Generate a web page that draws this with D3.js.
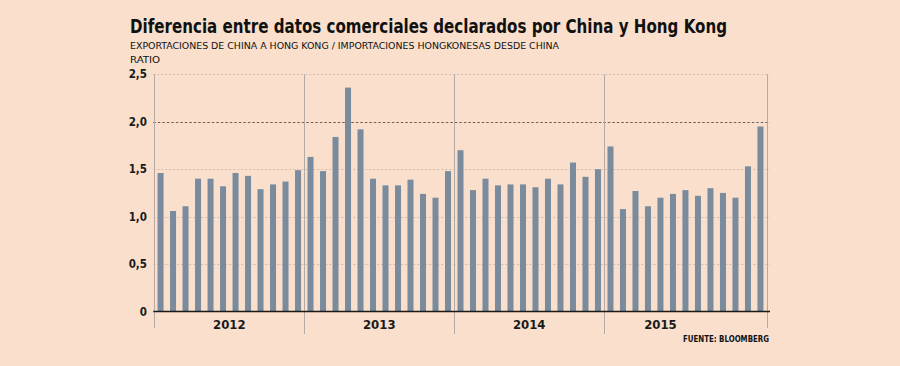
<!DOCTYPE html>
<html>
<head>
<meta charset="utf-8">
<script src="https://cdn.jsdelivr.net/npm/d3@7"></script>
<style>
  html, body { margin: 0; padding: 0; background: #f9dfcc; }
  svg { display: block; }
  text { font-family: "DejaVu Sans Condensed", "DejaVu Sans", Tahoma, sans-serif; }
</style>
</head>
<body>
<svg id="chart" width="900" height="366"></svg>
<script>
// ---- data ----
const months = [
  "2012-01","2012-02","2012-03","2012-04","2012-05","2012-06","2012-07","2012-08","2012-09","2012-10","2012-11","2012-12",
  "2013-01","2013-02","2013-03","2013-04","2013-05","2013-06","2013-07","2013-08","2013-09","2013-10","2013-11","2013-12",
  "2014-01","2014-02","2014-03","2014-04","2014-05","2014-06","2014-07","2014-08","2014-09","2014-10","2014-11","2014-12",
  "2015-01","2015-02","2015-03","2015-04","2015-05","2015-06","2015-07","2015-08","2015-09","2015-10","2015-11","2015-12","2016-01"
];
const ratio = [
  1.46, 1.06, 1.11, 1.40, 1.40, 1.32, 1.46, 1.43, 1.29, 1.34, 1.37, 1.49,
  1.63, 1.48, 1.84, 2.36, 1.92, 1.40, 1.33, 1.33, 1.39, 1.24, 1.20, 1.48,
  1.70, 1.28, 1.40, 1.33, 1.34, 1.34, 1.31, 1.40, 1.34, 1.57, 1.42, 1.50,
  1.74, 1.08, 1.27, 1.11, 1.20, 1.24, 1.28, 1.22, 1.30, 1.25, 1.20, 1.53, 1.95
];
const yearLabels = ["2012", "2013", "2014", "2015"];
const yearStarts = ["2012-01", "2013-01", "2014-01", "2015-01"];
const yTicks = [0, 0.5, 1.0, 1.5, 2.0, 2.5];
const yTickLabels = ["0", "0,5", "1,0", "1,5", "2,0", "2,5"];

const title = "Diferencia entre datos comerciales declarados por China y Hong Kong";
const subtitle = "EXPORTACIONES DE CHINA A HONG KONG / IMPORTACIONES HONGKONESAS DESDE CHINA";
const unitLabel = "RATIO";
const source = "FUENTE: BLOOMBERG";

// ---- layout ----
const svg = d3.select("#chart");
const pLeft = 154.3, pRight = 766.7, pTop = 74.3, pBottom = 311.6;

const x = d3.scaleBand().domain(months).range([pLeft, pRight]).paddingInner(0.52).paddingOuter(0.26);
const xb = d3.scaleBand().domain(months).range([pLeft, pRight]); // for boundaries
const y = d3.scaleLinear().domain([0, 2.5]).range([pBottom, pTop]);

svg.append("rect").attr("width", 900).attr("height", 366).attr("fill", "#f9dfcc");

// gridlines
svg.append("g").selectAll("line").data(yTicks.filter(d => d > 0)).join("line")
  .attr("x1", pLeft - 1).attr("x2", 770)
  .attr("y1", d => Math.round(y(d)) + 0.5).attr("y2", d => Math.round(y(d)) + 0.5)
  .attr("stroke", d => d === 2.0 ? "#6e5f58" : "#d2bcae")
  .attr("stroke-width", 1)
  .attr("stroke-dasharray", d => d === 2.0 ? "2.5,2" : "2,2");

// vertical separators
const sepX = yearStarts.map(m => xb(m)).concat([pRight]);
svg.append("g").selectAll("line").data(sepX).join("line")
  .attr("x1", d => Math.round(d) + 0.5).attr("x2", d => Math.round(d) + 0.5)
  .attr("y1", pTop).attr("y2", (d, i) => (i === 0 || i === sepX.length - 1) ? 328 : 334)
  .attr("stroke", "#b5aaa3").attr("stroke-width", 1);

// bars
svg.append("g").selectAll("rect").data(months).join("rect")
  .attr("x", d => x(d)).attr("width", x.bandwidth())
  .attr("y", (d, i) => y(ratio[i])).attr("height", (d, i) => y(0) - y(ratio[i]))
  .attr("fill", "#798b9c");

// baseline
svg.append("line").attr("x1", pLeft - 1).attr("x2", 770)
  .attr("y1", pBottom).attr("y2", pBottom)
  .attr("stroke", "#1a1a1a").attr("stroke-width", 1.5);

// y axis labels
svg.append("g").selectAll("text").data(yTicks).join("text")
  .attr("x", 147).attr("y", d => y(d) + 4)
  .attr("text-anchor", "end")
  .attr("font-size", 11.5).attr("font-weight", "bold").attr("fill", "#1a1a1a")
  .text((d, i) => yTickLabels[i]);

// year labels
svg.append("g").selectAll("text").data(yearLabels).join("text")
  .attr("x", (d, i) => i < 3 ? (sepX[i] + sepX[i + 1]) / 2 : (sepX[i] + xb("2015-10")) / 2)
  .attr("y", 329)
  .attr("text-anchor", "middle")
  .attr("font-size", 13).attr("font-weight", "bold").attr("fill", "#1a1a1a")
  .text(d => d);

// titles
svg.append("text").attr("x", 130).attr("y", 33)
  .attr("font-size", 20).attr("font-weight", "bold").attr("fill", "#111")
  .attr("textLength", 597).attr("lengthAdjust", "spacingAndGlyphs")
  .text(title);
svg.append("text").attr("x", 130).attr("y", 49)
  .attr("font-size", 9.5).attr("fill", "#111")
  .attr("textLength", 429).attr("lengthAdjust", "spacingAndGlyphs")
  .text(subtitle);
svg.append("text").attr("x", 130).attr("y", 62.5)
  .attr("font-size", 9.5).attr("fill", "#111")
  .attr("textLength", 30).attr("lengthAdjust", "spacingAndGlyphs")
  .text(unitLabel);

// source
svg.append("text").attr("x", 769).attr("y", 342)
  .attr("text-anchor", "end")
  .attr("font-size", 8.5).attr("font-weight", "bold").attr("fill", "#111")
  .attr("textLength", 86).attr("lengthAdjust", "spacingAndGlyphs")
  .text(source);
</script>
</body>
</html>
